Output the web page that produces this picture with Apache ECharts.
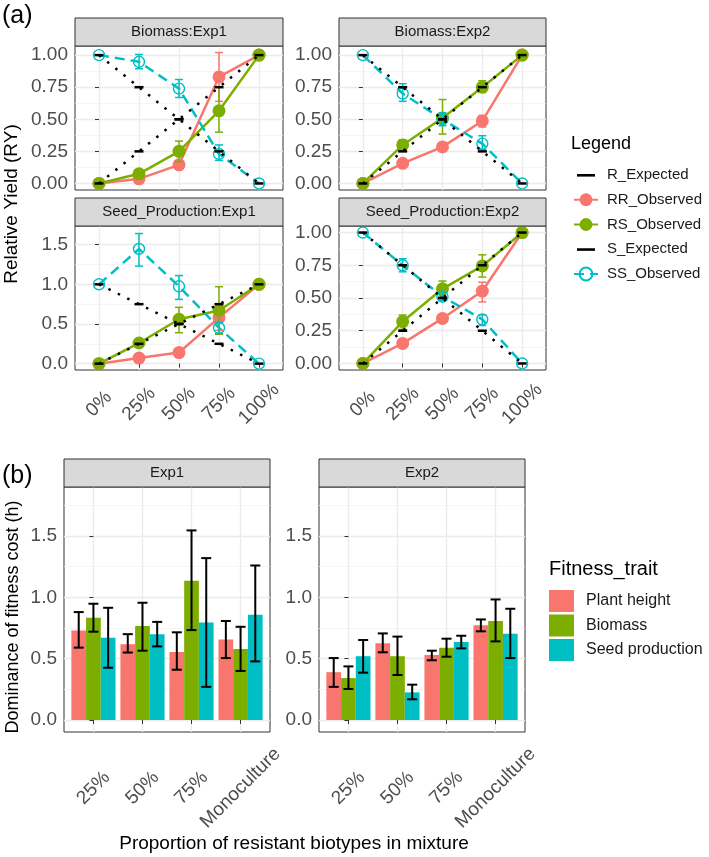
<!DOCTYPE html>
<html><head><meta charset="utf-8">
<script src="https://cdn.jsdelivr.net/npm/echarts@6/dist/echarts.min.js"></script>
<style>html,body{margin:0;padding:0;background:#fff}#c{width:709px;height:857px}</style>
</head><body><div id="c"></div>
<script>
// ---------- categories / labels ----------
const proportions = ['0%', '25%', '50%', '75%', '100%'];
const mixtures = ['25%', '50%', '75%', 'Monoculture'];
const facetsA = ['Biomass:Exp1', 'Biomass:Exp2', 'Seed_Production:Exp1', 'Seed_Production:Exp2'];
const facetsB = ['Exp1', 'Exp2'];
const legendA = ['R_Expected', 'RR_Observed', 'RS_Observed', 'S_Expected', 'SS_Observed'];
const traits = ['Plant height', 'Biomass', 'Seed production'];
const ticksRY2 = [0, 0.25, 0.5, 0.75, 1];
const ticksRY1 = [0, 0.5, 1, 1.5];
const ticksH = [0, 0.5, 1, 1.5];

// ---------- panel (a) data ----------
const rExpected = [0, 0.25, 0.5, 0.75, 1];
const sExpected = [1, 0.75, 0.5, 0.25, 0];

const bio1RR = [0, 0.036, 0.145, 0.83, 1];
const bio1RRlo = [null, null, null, 0.64, null];
const bio1RRhi = [null, null, null, 1.02, null];
const bio1RS = [0, 0.075, 0.25, 0.566, 1];
const bio1RSlo = [null, null, 0.17, 0.40, null];
const bio1RShi = [null, null, 0.33, 0.75, null];
const bio1SS = [1, 0.948, 0.739, 0.23, 0];
const bio1SSlo = [null, 0.894, 0.67, 0.18, null];
const bio1SShi = [null, 1.005, 0.81, 0.30, null];

const bio2RR = [0, 0.157, 0.285, 0.487, 1];
const bio2RRlo = [null, null, null, 0.44, null];
const bio2RRhi = [null, null, null, 0.53, null];
const bio2RS = [0, 0.30, 0.51, 0.75, 1];
const bio2RSlo = [null, 0.26, 0.385, 0.71, null];
const bio2RShi = [null, 0.34, 0.654, 0.80, null];
const bio2SS = [1, 0.70, 0.50, 0.31, 0];
const bio2SSlo = [null, 0.64, 0.45, 0.265, null];
const bio2SShi = [null, 0.777, 0.55, 0.372, null];

const seed1RR = [0, 0.07, 0.14, 0.58, 1];
const seed1RRlo = [null, null, null, 0.42, null];
const seed1RRhi = [null, null, null, 0.75, null];
const seed1RS = [0, 0.26, 0.56, 0.67, 1];
const seed1RSlo = [null, 0.21, 0.39, 0.37, null];
const seed1RShi = [null, 0.31, 0.71, 0.97, null];
const seed1SS = [1, 1.446, 0.975, 0.45, 0];
const seed1SSlo = [null, 1.23, 0.81, 0.38, null];
const seed1SShi = [null, 1.64, 1.11, 0.52, null];

const seed2RR = [0, 0.153, 0.344, 0.553, 1];
const seed2RRlo = [null, null, null, 0.47, null];
const seed2RRhi = [null, null, null, 0.62, null];
const seed2RS = [0, 0.32, 0.57, 0.745, 1];
const seed2RSlo = [null, 0.26, 0.50, 0.66, null];
const seed2RShi = [null, 0.37, 0.63, 0.83, null];
const seed2SS = [1, 0.75, 0.51, 0.337, 0];
const seed2SSlo = [null, 0.70, 0.48, 0.29, null];
const seed2SShi = [null, 0.80, 0.55, 0.37, null];

// ---------- panel (b) data ----------
const exp1Height = [0.73, 0.617, 0.554, 0.657];
const exp1HeightLo = [0.59, 0.55, 0.41, 0.505];
const exp1HeightHi = [0.88, 0.70, 0.715, 0.807];
const exp1Biomass = [0.834, 0.766, 1.135, 0.579];
const exp1BiomassLo = [0.72, 0.565, 0.733, 0.40];
const exp1BiomassHi = [0.948, 0.956, 1.546, 0.76];
const exp1Seed = [0.67, 0.70, 0.796, 0.858];
const exp1SeedLo = [0.426, 0.60, 0.27, 0.478];
const exp1SeedHi = [0.915, 0.80, 1.32, 1.26];

const exp2Height = [0.39, 0.625, 0.53, 0.772];
const exp2HeightLo = [0.27, 0.552, 0.487, 0.723];
const exp2HeightHi = [0.505, 0.706, 0.565, 0.82];
const exp2Biomass = [0.342, 0.52, 0.59, 0.807];
const exp2BiomassLo = [0.253, 0.367, 0.516, 0.641];
const exp2BiomassHi = [0.437, 0.68, 0.663, 0.983];
const exp2Seed = [0.52, 0.225, 0.636, 0.703];
const exp2SeedLo = [0.386, 0.169, 0.584, 0.505];
const exp2SeedHi = [0.652, 0.288, 0.687, 0.907];

// ---------- styling / layout ----------
const FONT = 'Liberation Sans, Arial, Helvetica, sans-serif';
const cRR = '#F8766D', cRS = '#7CAE00', cSS = '#00BFC4';
const traitColors = ['#F8766D', '#7CAE00', '#00BFC4'];
const border = '#333333';
const labelCol = '#4D4D4D';
const dashIcon = 'path://M0,0M3,7h18v2.6h-18zM24,16';

const gridsA = [
  {left: 75, top: 46, width: 208, height: 144},
  {left: 339, top: 46, width: 207, height: 144},
  {left: 75, top: 226, width: 208, height: 144},
  {left: 339, top: 226, width: 207, height: 144}
];
const gridsB = [
  {left: 64, top: 487, width: 206, height: 245},
  {left: 319, top: 487, width: 206, height: 245}
];
const yRangeA = [[-0.051, 1.071], [-0.051, 1.071], [-0.08, 1.735], [-0.05, 1.05]];
const yTicksA = [ticksRY2, ticksRY2, ticksRY1, ticksRY2];
const yDigitsA = [2, 2, 1, 2];
const yRangeB = [-0.098, 1.9];

const panelsA = [
  {RR: [bio1RR, bio1RRlo, bio1RRhi], RS: [bio1RS, bio1RSlo, bio1RShi], SS: [bio1SS, bio1SSlo, bio1SShi]},
  {RR: [bio2RR, bio2RRlo, bio2RRhi], RS: [bio2RS, bio2RSlo, bio2RShi], SS: [bio2SS, bio2SSlo, bio2SShi]},
  {RR: [seed1RR, seed1RRlo, seed1RRhi], RS: [seed1RS, seed1RSlo, seed1RShi], SS: [seed1SS, seed1SSlo, seed1SShi]},
  {RR: [seed2RR, seed2RRlo, seed2RRhi], RS: [seed2RS, seed2RSlo, seed2RShi], SS: [seed2SS, seed2SSlo, seed2SShi]}
];
const panelsB = [
  [[exp1Height, exp1HeightLo, exp1HeightHi], [exp1Biomass, exp1BiomassLo, exp1BiomassHi], [exp1Seed, exp1SeedLo, exp1SeedHi]],
  [[exp2Height, exp2HeightLo, exp2HeightHi], [exp2Biomass, exp2BiomassLo, exp2BiomassHi], [exp2Seed, exp2SeedLo, exp2SeedHi]]
];

function minorOf(ticks, max) {
  const out = [];
  const step = ticks[1] - ticks[0];
  for (let i = 0; i < ticks.length; i++) {
    const m = ticks[i] + step / 2;
    if (m < max) out.push(m);
  }
  return out;
}

function errSeries(xi, yi, vals, lo, hi, color, capPx, lw, offsetFrac) {
  const data = [];
  for (let i = 0; i < vals.length; i++) if (lo[i] != null) data.push([i, lo[i], hi[i]]);
  return {
    type: 'custom', xAxisIndex: xi, yAxisIndex: yi, silent: true, z: 4, data: data,
    encode: {x: 0, y: [1, 2]},
    renderItem: function (params, api) {
      const x = api.value(0), l = api.value(1), h = api.value(2);
      const band = api.size([1, 0])[0];
      const pb = api.coord([x, l]);
      const pt = api.coord([x, h]);
      const cx = pb[0] + offsetFrac * band;
      const c = capPx / 2;
      const st = {stroke: color, lineWidth: lw};
      return {type: 'group', children: [
        {type: 'line', shape: {x1: cx, y1: pt[1], x2: cx, y2: pb[1]}, style: st},
        {type: 'line', shape: {x1: cx - c, y1: pt[1], x2: cx + c, y2: pt[1]}, style: st},
        {type: 'line', shape: {x1: cx - c, y1: pb[1], x2: cx + c, y2: pb[1]}, style: st}
      ]};
    }
  };
}

const grid = [], xAxis = [], yAxis = [], series = [], graphic = [];

function addStrip(g, text) {
  graphic.push({type: 'rect', shape: {x: g.left, y: g.top - 28, width: g.width, height: 28},
    style: {fill: '#D9D9D9', stroke: border, lineWidth: 1}, z: 10});
  graphic.push({type: 'text', x: g.left + g.width / 2, y: g.top - 14, z: 11,
    style: {text: text, fill: '#1A1A1A', fontSize: 15, fontFamily: FONT, align: 'center', verticalAlign: 'middle'}});
}

function yAxesFor(gi, range, ticks, digits) {
  yAxis.push({
    gridIndex: gi, type: 'value', min: range[0], max: range[1], position: 'left',
    axisLine: {show: false},
    axisTick: {show: true, length: 4, lineStyle: {color: border}, customValues: ticks},
    axisLabel: {customValues: ticks, formatter: function (v) { return v.toFixed(digits); },
      fontSize: 19, color: labelCol, fontFamily: FONT, margin: 7},
    splitLine: {show: true, lineStyle: {color: '#EBEBEB', width: 1.3}},
    minorSplitLine: {show: false}
  });
  const minor = minorOf(ticks, range[1]);
  yAxis.push({
    gridIndex: gi, type: 'value', min: range[0], max: range[1], position: 'left',
    axisLine: {show: false},
    axisTick: {show: false, customValues: minor},
    axisLabel: {show: false, customValues: minor},
    splitLine: {show: true, lineStyle: {color: '#F2F2F2', width: 0.8}}
  });
}

// ---- panel (a) ----
gridsA.forEach(function (g, i) {
  grid.push({left: g.left, top: g.top, width: g.width, height: g.height, show: true,
    backgroundColor: '#fff', borderColor: border, borderWidth: 1, containLabel: false});
  const bottom = i >= 2;
  xAxis.push({
    gridIndex: i, type: 'value', min: -0.6, max: 4.6,
    axisLine: {show: false},
    axisTick: {show: bottom, length: 4, lineStyle: {color: border}, customValues: [0, 1, 2, 3, 4]},
    axisLabel: {show: bottom, customValues: [0, 1, 2, 3, 4],
      formatter: function (v) { return proportions[Math.round(v)]; },
      rotate: 45, align: 'center', verticalAlign: 'middle', margin: 34,
      fontSize: 19, color: labelCol, fontFamily: FONT},
    splitLine: {show: true, lineStyle: {color: '#EBEBEB', width: 1.3}}
  });
  yAxesFor(i, yRangeA[i], yTicksA[i], yDigitsA[i]);
  addStrip(g, facetsA[i]);
  const yi = 2 * i;
  const p = panelsA[i];
  const pts = function (arr) { return arr.map(function (v, k) { return [k, v]; }); };
  series.push({name: 'RR_Observed', type: 'line', xAxisIndex: i, yAxisIndex: yi, data: pts(p.RR[0]),
    symbol: 'circle', symbolSize: 13, color: cRR, lineStyle: {color: cRR, width: 2.5}, itemStyle: {color: cRR}, z: 2});
  series.push({name: 'RS_Observed', type: 'line', xAxisIndex: i, yAxisIndex: yi, data: pts(p.RS[0]),
    symbol: 'circle', symbolSize: 13, color: cRS, lineStyle: {color: cRS, width: 2.5}, itemStyle: {color: cRS}, z: 2});
  series.push({name: 'SS_Observed', type: 'line', xAxisIndex: i, yAxisIndex: yi, data: pts(p.SS[0]),
    symbol: 'circle', symbolSize: 11, color: cSS, lineStyle: {color: cSS, width: 2.5, type: [10, 6]},
    itemStyle: {color: 'rgba(255,255,255,0)', borderColor: cSS, borderWidth: 1.4}, z: 2});
  series.push(errSeries(i, yi, p.RR[0], p.RR[1], p.RR[2], cRR, 8, 1.5, 0));
  series.push(errSeries(i, yi, p.RS[0], p.RS[1], p.RS[2], cRS, 8, 1.5, 0));
  series.push(errSeries(i, yi, p.SS[0], p.SS[1], p.SS[2], cSS, 8, 1.5, 0));
  series.push({name: 'R_Expected', type: 'line', xAxisIndex: i, yAxisIndex: yi, data: pts(rExpected),
    symbol: 'rect', symbolSize: [9, 2.5], color: '#000', lineStyle: {color: '#000', width: 2.5, type: [2.5, 8]},
    itemStyle: {color: '#000'}, z: 5});
  series.push({name: 'S_Expected', type: 'line', xAxisIndex: i, yAxisIndex: yi, data: pts(sExpected),
    symbol: 'rect', symbolSize: [9, 2.5], color: '#000', lineStyle: {color: '#000', width: 2.5, type: [2.5, 8]},
    itemStyle: {color: '#000'}, z: 5});
});

// ---- panel (b) ----
gridsB.forEach(function (g, j) {
  const gi = 4 + j;
  grid.push({left: g.left, top: g.top, width: g.width, height: g.height, show: true,
    backgroundColor: '#fff', borderColor: border, borderWidth: 1, containLabel: false});
  xAxis.push({
    gridIndex: gi, type: 'value', min: -0.6, max: 3.6,
    axisLine: {show: false},
    axisTick: {show: true, length: 4, lineStyle: {color: border}, customValues: [0, 1, 2, 3]},
    axisLabel: {customValues: [0, 1, 2, 3],
      formatter: function (v) { return mixtures[Math.round(v)]; },
      rotate: 45, align: 'center', verticalAlign: 'middle', margin: 56,
      fontSize: 19, color: labelCol, fontFamily: FONT},
    splitLine: {show: true, lineStyle: {color: '#EBEBEB', width: 1.3}}
  });
  yAxesFor(gi, yRangeB, ticksH, 1);
  addStrip(g, facetsB[j]);
  const yi = 2 * gi;
  panelsB[j].forEach(function (tr, k) {
    series.push({name: traits[k], type: 'bar', xAxisIndex: gi, yAxisIndex: yi,
      data: tr[0].map(function (v, m) { return [m, v]; }),
      barGap: '0%', barCategoryGap: '10%', itemStyle: {color: traitColors[k]}, color: traitColors[k], z: 2});
  });
  panelsB[j].forEach(function (tr, k) {
    series.push(errSeries(gi, yi, tr[0], tr[1], tr[2], '#000', 10, 2, (k - 1) * 0.3));
  });
});

// ---- titles / labels ----
graphic.push({type: 'text', x: 2, y: 16, style: {text: '(a)', fontSize: 25, fontFamily: FONT, fill: '#000', align: 'left', verticalAlign: 'middle'}});
graphic.push({type: 'text', x: 2, y: 476, style: {text: '(b)', fontSize: 25, fontFamily: FONT, fill: '#000', align: 'left', verticalAlign: 'middle'}});
graphic.push({type: 'text', x: 12, y: 204, rotation: Math.PI / 2,
  style: {text: 'Relative Yield (RY)', fontSize: 19, fontFamily: FONT, fill: '#000', align: 'center', verticalAlign: 'middle'}});
graphic.push({type: 'text', x: 13, y: 617, rotation: Math.PI / 2,
  style: {text: 'Dominance of fitness cost (h)', fontSize: 18, fontFamily: FONT, fill: '#000', align: 'center', verticalAlign: 'middle'}});
graphic.push({type: 'text', x: 294, y: 844,
  style: {text: 'Proportion of resistant biotypes in mixture', fontSize: 19, fontFamily: FONT, fill: '#000', align: 'center', verticalAlign: 'middle'}});
graphic.push({type: 'text', x: 571, y: 144,
  style: {text: 'Legend', fontSize: 18, fontFamily: FONT, fill: '#000', align: 'left', verticalAlign: 'middle'}});
graphic.push({type: 'text', x: 549, y: 569,
  style: {text: 'Fitness_trait', fontSize: 20, fontFamily: FONT, fill: '#000', align: 'left', verticalAlign: 'middle'}});

const option = {
  animation: false,
  backgroundColor: '#fff',
  textStyle: {fontFamily: FONT},
  grid: grid, xAxis: xAxis, yAxis: yAxis, series: series, graphic: graphic,
  legend: [
    {data: [
        {name: 'R_Expected', icon: dashIcon},
        {name: 'RR_Observed'},
        {name: 'RS_Observed'},
        {name: 'S_Expected', icon: dashIcon},
        {name: 'SS_Observed'}
      ],
      orient: 'vertical', left: 568, top: 162, itemWidth: 24, itemHeight: 16, itemGap: 8.75,
      textStyle: {fontSize: 15, color: '#1A1A1A', fontFamily: FONT, lineHeight: 16, padding: [0, 0, 0, 4]},
      selectedMode: false},
    {data: traits, orient: 'vertical', left: 544, top: 585, itemWidth: 25, itemHeight: 22, itemGap: 2.5,
      icon: 'rect', textStyle: {fontSize: 16, color: '#1A1A1A', fontFamily: FONT, lineHeight: 22, padding: [0, 0, 0, 7]},
      selectedMode: false}
  ]
};

const chart = echarts.init(document.getElementById('c'), null, {renderer: 'canvas'});
chart.setOption(option);
</script>
</body></html>
